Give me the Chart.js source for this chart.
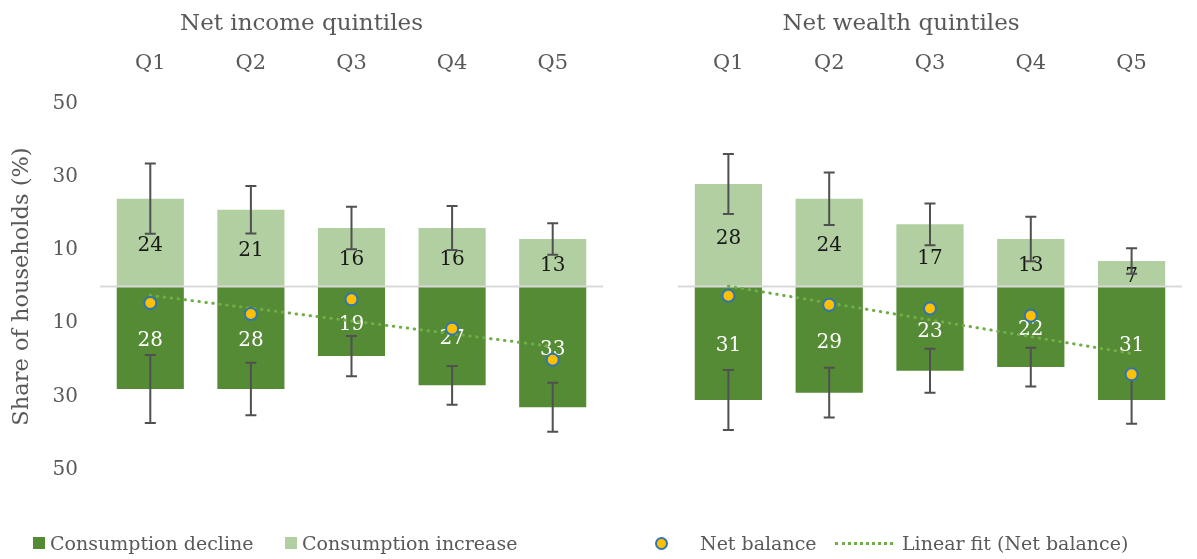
<!DOCTYPE html>
<html>
<head>
<meta charset="utf-8">
<script src="https://cdn.jsdelivr.net/npm/chart.js@4.4.0/dist/chart.umd.min.js"></script>
<style>
  body { margin: 0; width: 1197px; height: 559px; overflow: hidden; background: #fff; font-family: 'DejaVu Serif', serif; }
  #incomeChart { position: absolute; left: 0; top: 0; }
  #wealthChart { position: absolute; left: 620px; top: 0; }
  .lg { position: absolute; top: 530px; height: 26px; display: flex; align-items: center; font-size: 19px; color: #595959; white-space: nowrap; }
  .lg .mk { display: inline-block; flex: none; }
</style>
</head>
<body>
<canvas id="incomeChart" width="620" height="559"></canvas>
<canvas id="wealthChart" width="577" height="559"></canvas>
<div id="legend"></div>

<script>
// data
var quintiles = ['Q1', 'Q2', 'Q3', 'Q4', 'Q5'];

var incomeIncrease = [24, 21, 16, 16, 13];
var incomeDecline = [28, 28, 19, 27, 33];
var incomeNet = [-4.5, -7.5, -3.5, -11.5, -20];
var incomeIncErr = [9.6, 6.5, 5.8, 6, 4.3];
var incomeDecErr = [9.3, 7.2, 5.5, 5.3, 6.7];

var wealthIncrease = [28, 24, 17, 13, 7];
var wealthDecline = [31, 29, 23, 22, 31];
var wealthNet = [-2.5, -5, -6, -8, -24];
var wealthIncErr = [8.2, 7.2, 5.7, 6.1, 3.5];
var wealthDecErr = [8.2, 6.8, 6, 5.3, 6.5];

var yTicks = [-50, -30, -10, 10, 30, 50];

var DARK = '#558B35';
var LIGHT = '#B1CFA0';
var DOT = '#FFC000';
var DOT_EDGE = '#2E75B6';
var FIT = '#70AD47';
var GREY = '#595959';

Chart.defaults.font.family = "'DejaVu Serif', serif";
Chart.defaults.color = GREY;

// least squares line through the net balance points
function linearFit(vals) {
    var n = vals.length, sx = 0, sy = 0, sxy = 0, sxx = 0;
    for (var i = 0; i < n; i++) {
        sx += i; sy += vals[i]; sxy += i * vals[i]; sxx += i * i;
    }
    var b = (n * sxy - sx * sy) / (n * sxx - sx * sx);
    var a = (sy - b * sx) / n;
    var out = [];
    for (var j = 0; j < n; j++) out.push(a + b * j);
    return out;
}

function makeChart(id, title, inc, dec, net, incErr, decErr, showAxis) {

    // zero line, value labels and error bars on top of the bars
    var overlay = {
        id: 'overlay',
        afterDatasetDraw: function (chart, args) {
            if (args.index !== 1) return;
            var ctx = chart.ctx;
            var y = chart.scales.y;
            var area = chart.chartArea;
            var y0 = y.getPixelForValue(0);

            ctx.save();
            ctx.strokeStyle = '#D9D9D9';
            ctx.lineWidth = 2;
            ctx.beginPath();
            ctx.moveTo(area.left, y0);
            ctx.lineTo(area.right, y0);
            ctx.stroke();

            ctx.font = "20px 'DejaVu Serif'";
            ctx.textAlign = 'center';
            ctx.textBaseline = 'middle';
            [0, 1].forEach(function (di) {
                var meta = chart.getDatasetMeta(di);
                meta.data.forEach(function (bar, j) {
                    var v = chart.data.datasets[di].data[j];
                    ctx.fillStyle = di === 0 ? '#ffffff' : '#1a1a1a';
                    ctx.fillText(Math.abs(v), bar.x, (bar.y + bar.base) / 2 + 3);
                });
            });

            ctx.strokeStyle = '#505050';
            ctx.lineWidth = 2;
            [0, 1].forEach(function (di) {
                var meta = chart.getDatasetMeta(di);
                var errs = di === 0 ? decErr : incErr;
                meta.data.forEach(function (bar, j) {
                    var v = chart.data.datasets[di].data[j];
                    var top = y.getPixelForValue(v + errs[j]);
                    var bot = y.getPixelForValue(v - errs[j]);
                    ctx.beginPath();
                    ctx.moveTo(bar.x, top); ctx.lineTo(bar.x, bot);
                    ctx.moveTo(bar.x - 5.5, top); ctx.lineTo(bar.x + 5.5, top);
                    ctx.moveTo(bar.x - 5.5, bot); ctx.lineTo(bar.x + 5.5, bot);
                    ctx.stroke();
                });
            });
            ctx.restore();
        }
    };

    return new Chart(document.getElementById(id), {
        type: 'bar',
        data: {
            labels: quintiles,
            datasets: [{
                label: 'Consumption decline',
                data: dec.map(function (v) { return -v; }),
                backgroundColor: DARK,
                order: 4
            }, {
                label: 'Consumption increase',
                data: inc,
                backgroundColor: LIGHT,
                order: 3
            }, {
                type: 'line',
                label: 'Net balance',
                data: net,
                showLine: false,
                pointRadius: 6,
                pointHoverRadius: 6,
                pointBackgroundColor: DOT,
                pointBorderColor: DOT_EDGE,
                pointBorderWidth: 2,
                order: 1
            }, {
                type: 'line',
                label: 'Linear fit (Net balance)',
                data: linearFit(net),
                borderColor: FIT,
                borderWidth: 3,
                borderDash: [0.5, 6.5],
                borderCapStyle: 'round',
                pointRadius: 0,
                fill: false,
                order: 2
            }]
        },
        options: {
            responsive: false,
            animation: false,
            events: [],
            grouped: false,
            categoryPercentage: 1,
            barPercentage: 0.667,
            layout: { padding: { left: 0, right: showAxis ? 17 : 15, top: 0, bottom: 89.5 } },
            plugins: {
                legend: { display: false },
                tooltip: { enabled: false },
                title: {
                    display: true,
                    text: title,
                    color: GREY,
                    font: { size: 23, weight: 'normal' },
                    padding: { top: 10, bottom: 10 }
                }
            },
            scales: {
                x: {
                    position: 'top',
                    grid: { display: false, drawTicks: false },
                    border: { display: false },
                    ticks: { font: { size: 21 }, color: GREY, padding: 27 },
                    afterFit: function (s) { s.height = 56; }
                },
                y: {
                    min: -50,
                    max: 50,
                    grid: { display: false, drawTicks: false },
                    border: { display: false },
                    afterBuildTicks: function (s) {
                        s.ticks = yTicks.map(function (v) { return { value: v }; });
                    },
                    ticks: {
                        display: showAxis,
                        font: { size: 20 },
                        color: GREY,
                        padding: 22,
                        callback: function (v) { return Math.abs(v); }
                    },
                    title: {
                        display: showAxis,
                        text: 'Share of households (%)',
                        color: GREY,
                        font: { size: 22.5 },
                        padding: { top: 9, bottom: 0 }
                    },
                    afterFit: function (s) { s.width = showAxis ? 100 : 58; }
                }
            }
        },
        plugins: [overlay]
    });
}

makeChart('incomeChart', 'Net income quintiles', incomeIncrease, incomeDecline, incomeNet, incomeIncErr, incomeDecErr, true);
makeChart('wealthChart', 'Net wealth quintiles', wealthIncrease, wealthDecline, wealthNet, wealthIncErr, wealthDecErr, false);

// html legend across both panels
var legendItems = [
    { text: 'Consumption decline', left: 33, gap: 5, mk: 'width:12px;height:12px;background:' + DARK },
    { text: 'Consumption increase', left: 285, gap: 5, mk: 'width:12px;height:12px;background:' + LIGHT },
    { text: 'Net balance', left: 655, gap: 32, mk: 'width:9px;height:9px;border-radius:50%;background:' + DOT + ';border:2px solid ' + DOT_EDGE },
    { text: 'Linear fit (Net balance)', left: 835, gap: 9, mk: 'width:58px;height:0;border-top:3px dotted ' + FIT }
];
var lg = document.getElementById('legend');
legendItems.forEach(function (it) {
    var d = document.createElement('div');
    d.className = 'lg';
    d.style.left = it.left + 'px';
    d.innerHTML = '<span class="mk" style="' + it.mk + ';margin-right:' + it.gap + 'px"></span><span>' + it.text + '</span>';
    lg.appendChild(d);
});
</script>
</body>
</html>
